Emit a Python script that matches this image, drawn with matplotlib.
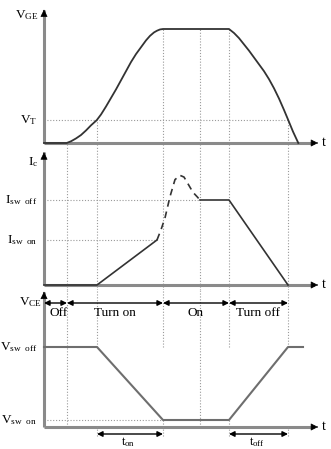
import matplotlib
matplotlib.use('Agg')
import matplotlib.pyplot as plt

plt.rcParams['font.family'] = ['Liberation Serif', 'DejaVu Serif']
plt.rcParams['mathtext.fontset'] = 'custom'
plt.rcParams['mathtext.rm'] = 'Liberation Serif'
plt.rcParams['mathtext.it'] = 'Liberation Serif:italic'
plt.rcParams['mathtext.bf'] = 'Liberation Serif:bold'

# switching instants (time units)
T_OFF_END = 23
T_RISE = 53
T_ON = 119
T_SETTLE = 156
T_OFF = 185
T_FALL_END = 244

# gate voltage (normalised to plateau)
vge_t = [0, 22.7, 27, 32, 37, 42, 47, 52.7, 57, 62, 67, 72, 77, 82, 87, 92, 97,
         102, 106, 110, 113, 116, 119,
         185, 190, 195, 200, 205, 210, 215, 220, 225, 230, 235, 240, 244.3, 249, 254.3]
vge_v = [0, 0, 0.015, 0.04, 0.07, 0.11, 0.155, 0.2, 0.25, 0.32, 0.395, 0.47, 0.55,
         0.63, 0.71, 0.78, 0.84, 0.9, 0.94, 0.97, 0.985, 0.996, 1.0,
         1.0, 0.965, 0.92, 0.865, 0.81, 0.75, 0.69, 0.63, 0.56, 0.48, 0.39, 0.29,
         0.2, 0.1, 0]
V_T = 0.2

# collector current (normalised to I_sw off)
ic_rise_t = [0, T_RISE, 113]
ic_rise_v = [0, 0, 0.53]
ic_over_t = [113, 117, 121, 126, 131, 136, 140, 144, 149, 153, 156]
ic_over_v = [0.53, 0.65, 0.79, 1.04, 1.24, 1.29, 1.27, 1.19, 1.09, 1.04, 1.0]
ic_fall_t = [156, 185, 244]
ic_fall_v = [1.0, 1.0, 0]
I_SW_ON = 0.53
I_SW_OFF = 1.0

# collector-emitter voltage (normalised to V_sw off)
vce_t = [0, 53, 119, 185, 244, 259]
vce_v = [1.0, 1.0, 0.0875, 0.0875, 1.0, 1.0]
V_SW_ON = 0.0875
V_SW_OFF = 1.0

phases = [('Off', 0, T_OFF_END), ('Turn on', T_OFF_END, T_ON),
          ('On', T_ON, T_OFF), ('Turn off', T_OFF, T_FALL_END)]

W, H = 331, 449
fig = plt.figure(figsize=(W / 100, H / 100), dpi=100)
fig.patch.set_facecolor('white')


def panel(top_px, bot_px, base_px, scale_px):
    ax = fig.add_axes([0, 1 - bot_px / H, 1, (bot_px - top_px) / H])
    ax.set_xlim(-44, W - 44)
    ax.set_ylim(-(bot_px - base_px) / scale_px, (base_px - top_px) / scale_px)
    ax.axis('off')
    return ax


ax1 = panel(0, 146, 143, 114)
ax2 = panel(146, 290, 285, 85)
ax3 = panel(290, 449, 427, 80)

AXIS_C = '#8a8a8a'
CURVE_C = '#333333'
DOT_C = '#9a9a9a'
dot = dict(color=DOT_C, lw=0.8, ls=(0, (1, 1.6)), zorder=1)


def axes_arrows(ax, ytop):
    ax.plot([0, 0], [0, ytop], color=AXIS_C, lw=2.2, solid_capstyle='butt', zorder=2)
    ax.plot([0, 270], [0, 0], color=AXIS_C, lw=2.2, solid_capstyle='butt', zorder=2)
    ax.annotate('', xy=(0, ytop), xytext=(0, ytop - 0.01),
                arrowprops=dict(arrowstyle='-|>', color='black', lw=0.5,
                                mutation_scale=11, shrinkA=0, shrinkB=0))
    ax.annotate('', xy=(274, 0), xytext=(273, 0),
                arrowprops=dict(arrowstyle='-|>', color='black', lw=0.5,
                                mutation_scale=11, shrinkA=0, shrinkB=0))
    ax.text(278, 0, 't', fontsize=10, va='center', ha='left')


def sub_label(ax, x, y, main, sub):
    ax.text(x, y, r'$\mathrm{%s}_{\mathrm{%s}}$' % (main, sub), fontsize=9.5,
            ha='right', va='center')


# ---- V_GE ----
lo1 = ax1.get_ylim()[0]
ax1.vlines(T_OFF_END, lo1, 0, **dot)
ax1.vlines(T_RISE, lo1, V_T, **dot)
ax1.vlines([T_ON, T_SETTLE, T_OFF], lo1, 1.0, **dot)
ax1.vlines(T_FALL_END, lo1, V_T, **dot)
ax1.hlines(V_T, 0, T_FALL_END, **dot)
ax1.plot(vge_t, vge_v, color=CURVE_C, lw=1.3, zorder=3)
axes_arrows(ax1, 1.17)
sub_label(ax1, -5, 1.12, 'V', 'GE')
sub_label(ax1, -7, V_T, 'V', 'T')

# ---- I_C ----
lo2, hi2 = ax2.get_ylim()
ax2.vlines([T_OFF_END, T_RISE, T_ON, T_SETTLE, T_OFF, T_FALL_END], lo2, hi2, **dot)
ax2.hlines(I_SW_OFF, 0, T_SETTLE, **dot)
ax2.hlines(I_SW_ON, 0, 113, **dot)
ax2.plot(ic_rise_t, ic_rise_v, color=CURVE_C, lw=1.2, zorder=3)
ax2.plot(ic_over_t, ic_over_v, color=CURVE_C, lw=1.2, ls=(0, (4, 3)), zorder=3)
ax2.plot(ic_fall_t, ic_fall_v, color=CURVE_C, lw=1.2, zorder=3)
axes_arrows(ax2, 1.56)
sub_label(ax2, -6, 1.45, 'I', 'c')
sub_label(ax2, -7, I_SW_OFF, 'I', 'sw\\ \\ off')
sub_label(ax2, -7, I_SW_ON, 'I', 'sw\\ \\ on')

# ---- V_CE ----
lo3, hi3 = ax3.get_ylim()
ax3.vlines([T_OFF_END, T_SETTLE], 0, hi3, **dot)
ax3.vlines([T_RISE, T_ON, T_OFF, T_FALL_END], 1.0, hi3, **dot)
ax3.vlines([T_ON, T_OFF], 0, V_SW_ON, **dot)
ax3.hlines(V_SW_ON, 0, T_ON, **dot)
ax3.plot(vce_t, vce_v, color='#6e6e6e', lw=1.5, zorder=3)
axes_arrows(ax3, 1.69)
sub_label(ax3, -2, 1.56, 'V', 'CE')
sub_label(ax3, -7, V_SW_OFF, 'V', 'sw\\ \\ off')
sub_label(ax3, -7, V_SW_ON, 'V', 'sw\\ \\ on')

arrow_kw = dict(arrowstyle='<|-|>', color='black', lw=1.0,
                mutation_scale=8, shrinkA=0, shrinkB=0)
for name, t0, t1 in phases:
    ax3.annotate('', xy=(t1, 1.55), xytext=(t0, 1.55), arrowprops=arrow_kw)
    ax3.text((t0 + t1) / 2 + (3 if name == 'Off' else 0), 1.42, name,
             fontsize=9.5, ha='center', va='center')

# switching time markers under the axis
for t0, t1, sub in [(T_RISE, T_ON, 'on'), (T_OFF, T_FALL_END, 'off')]:
    ax3.vlines([t0, t1], -0.11, 0, color=DOT_C, lw=0.8, ls=(0, (1, 1.6)))
    ax3.annotate('', xy=(t1, -0.0875), xytext=(t0, -0.0875), arrowprops=arrow_kw)
    ax3.text((t0 + t1) / 2 - 2, -0.19, r'$\mathrm{t}_{\mathrm{%s}}$' % sub,
             fontsize=9, ha='center', va='center')

fig.savefig('out.png', dpi=100, facecolor='white')
